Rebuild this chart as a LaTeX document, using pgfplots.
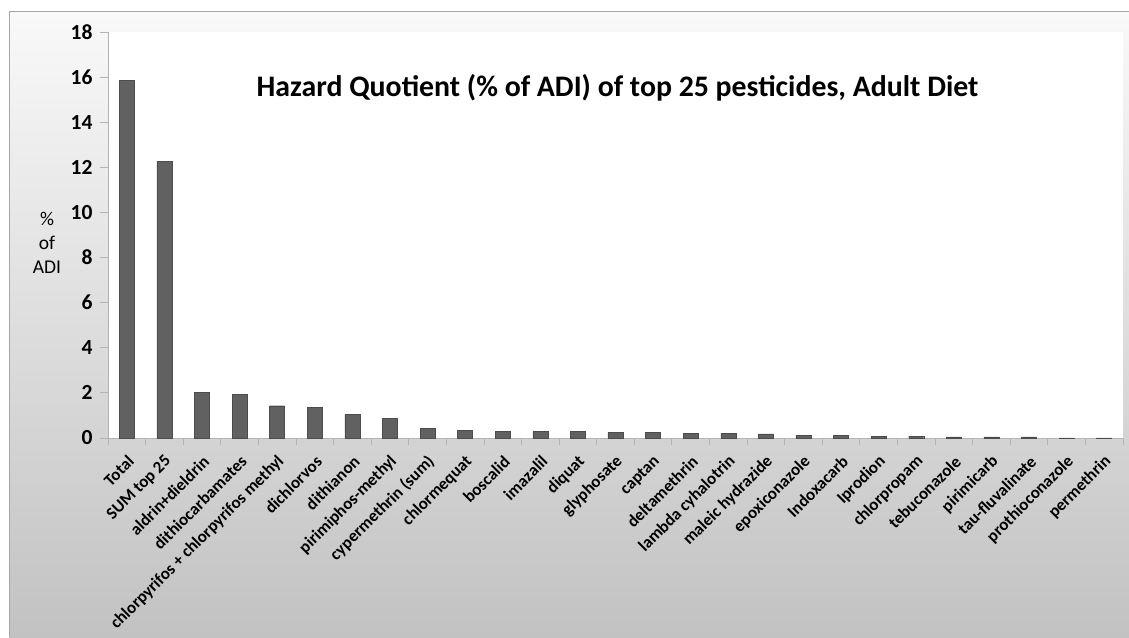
\documentclass[border=0pt]{standalone}
\usepackage{pgfplots}
\pgfplotsset{compat=1.18}
\usepackage{fontspec}
\setmainfont{Carlito}
\definecolor{bartop}{HTML}{F9F9F9}
\definecolor{barbot}{HTML}{C2C2C2}
\definecolor{barfill}{HTML}{616161}
\definecolor{axgray}{HTML}{B4B4B4}
\begin{document}
\begin{tikzpicture}[x=1pt,y=1pt]
\useasboundingbox (0,0) rectangle (1129,637);
\shade[top color=bartop, bottom color=barbot] (9,0) rectangle (1129,625);
\draw[color=gray!70, line width=1pt] (9,0) -- (9,625) -- (1129,625);
\begin{axis}[
  at={(108pt,199pt)}, anchor=south west,
  width=1015pt, height=406pt, scale only axis,
  xmin=-0.5, xmax=26.5, ymin=0, ymax=18,
  axis background/.style={fill=white},
  axis x line*=bottom, axis y line*=left,
  axis line style={axgray, line width=0.8pt},
  ytick={0,2,...,18},
  xtick={0,...,26},
  minor xtick={-0.5,0.5,...,26.5},
  major x tick style={draw=none},
  minor x tick style={axgray, line width=0.8pt},
  y tick style={axgray, line width=0.8pt},
  tick align=outside,
  major tick length=8pt, minor tick length=7pt,
  /pgf/number format/assume math mode=true,
  yticklabel style={font=\fontsize{21.5}{21.5}\selectfont\bfseries, xshift=-4pt},
  xticklabel style={font=\fontsize{17}{17}\selectfont\bfseries, xshift=5pt, yshift=-12pt, rotate=45, anchor=east, inner sep=1pt},
  xticklabels={Total,SUM top 25,aldrin+dieldrin,dithiocarbamates,chlorpyrifos + chlorpyrifos methyl,dichlorvos,dithianon,pirimiphos-methyl,cypermethrin (sum),chlormequat,boscalid,imazalil,diquat,glyphosate,captan,deltamethrin,lambda cyhalotrin,maleic hydrazide,epoxiconazole,Indoxacarb,Iprodion,chlorpropam,tebuconazole,pirimicarb,tau-fluvalinate,prothioconazole,permethrin},
  clip=false,
]
\addplot[ybar, bar width=15pt, fill=barfill, draw=black!70, line width=0.4pt] coordinates {
(0,15.87) (1,12.28) (2,2.01) (3,1.94) (4,1.43) (5,1.37) (6,1.05) (7,0.87) (8,0.44)
(9,0.33) (10,0.28) (11,0.28) (12,0.28) (13,0.25) (14,0.25) (15,0.22) (16,0.22)
(17,0.18) (18,0.11) (19,0.11) (20,0.08) (21,0.08) (22,0.05) (23,0.05) (24,0.05)
(25,0.01) (26,0.01)
};
\end{axis}
\node[anchor=base, font=\fontsize{29.8}{29.8}\selectfont\bfseries, inner sep=0pt] at (617.5,540) {Hazard Quotient (\% of ADI) of top 25 pesticides, Adult Diet};
\node[align=center, font=\fontsize{19.5}{24}\selectfont, inner sep=0pt] at (47,394) {\%\\of\\ADI};
\end{tikzpicture}
\end{document}
